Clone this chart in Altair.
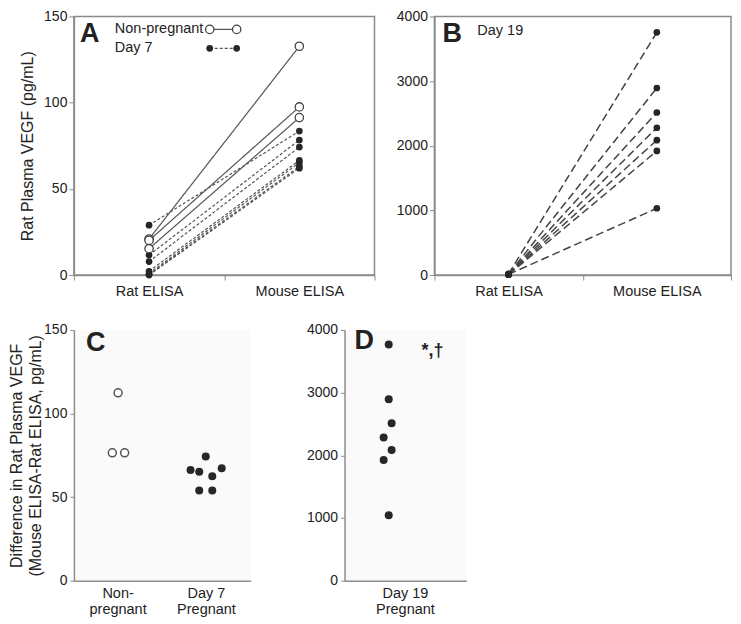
import altair as alt
import pandas as pd

FONT = "Liberation Sans"
TEXT = "#222222"
AXIS = "#8c8c8c"
INK = "#262626"
LINE = "#555555"

# ---------------- data ----------------
assays = ["Rat ELISA", "Mouse ELISA"]

# Panel A
np_rat = [20.9, 20.1, 15.3]
np_mouse = [132.7, 97.5, 91.3]
d7_rat = [28.9, 11.6, 7.8, 2.2, 0.9, 0.3, 0.0]
d7_mouse = [83.5, 78.3, 74.2, 66.5, 65.2, 63.0, 62.0]

# Panel B (Day 19)
d19_rat = [18, 14, 10, 12, 8, 6, 10]
d19_mouse = [3754, 2893, 2514, 2278, 2086, 1919, 1033]

# Panel C (difference)
c_groups = ["Non-|pregnant", "Day 7|Pregnant"]
c_np_diff = [112.4, 76.5, 76.5]
c_np_jit = [0.0, -0.8, 0.9]
c_d7_diff = [66.2, 65.2, 74.3, 62.4, 67.2, 54.0, 54.0]
c_d7_jit = [-2.2, -1.0, -0.1, 0.8, 2.1, -1.0, 0.8]

# Panel D (difference, Day 19)
d_group = ["Day 19|Pregnant"]
d_diff = [3767, 2894, 2513, 2286, 2084, 1926, 1043]
d_jit = [0.0, 0.0, 0.4, -0.7, 0.4, -0.7, 0.0]

# ---------------- tables ----------------
rowsA = []
for i, (r, m) in enumerate(zip(np_rat, np_mouse)):
    rowsA.append(dict(id=f"np{i}", group="Non-pregnant", assay=assays[0], value=r))
    rowsA.append(dict(id=f"np{i}", group="Non-pregnant", assay=assays[1], value=m))
for i, (r, m) in enumerate(zip(d7_rat, d7_mouse)):
    rowsA.append(dict(id=f"d7{i}", group="Day 7", assay=assays[0], value=r))
    rowsA.append(dict(id=f"d7{i}", group="Day 7", assay=assays[1], value=m))
dfA = pd.DataFrame(rowsA)

rowsB = []
for i, (r, m) in enumerate(zip(d19_rat, d19_mouse)):
    rowsB.append(dict(id=f"d19{i}", assay=assays[0], value=r))
    rowsB.append(dict(id=f"d19{i}", assay=assays[1], value=m))
dfB = pd.DataFrame(rowsB)

dfC = pd.DataFrame(
    [dict(group=c_groups[0], kind="open", diff=v, jit=j) for v, j in zip(c_np_diff, c_np_jit)]
    + [dict(group=c_groups[1], kind="filled", diff=v, jit=j) for v, j in zip(c_d7_diff, c_d7_jit)]
)
dfD = pd.DataFrame([dict(group=d_group[0], diff=v, jit=j) for v, j in zip(d_diff, d_jit)])

one = pd.DataFrame({"k": [0]})

# ---------------- helpers ----------------
def xband(domain):
    return alt.X(
        "assay:N",
        sort=domain,
        bandPosition=0.5,
        scale=alt.Scale(type="band", domain=domain, paddingInner=0, paddingOuter=0),
        axis=alt.Axis(
            title=None, labelAngle=0, tickBand="extent", ticks=True, tickSize=5,
            labelPadding=4, labelFontSize=14.5, domainColor=AXIS, tickColor=AXIS,
            domainWidth=1.5,
        ),
    )


def ann_text(txt, x, y, size=14.5, weight="normal", align="left"):
    return alt.Chart(one).mark_text(
        text=txt, font=FONT, fontSize=size, fontWeight=weight, color=TEXT,
        align=align, baseline="middle",
    ).encode(x=alt.value(x), y=alt.value(y))


def ann_rule(x1, x2, y, dash):
    return alt.Chart(one).mark_rule(color=LINE, strokeWidth=1.3, strokeDash=dash).encode(
        x=alt.value(x1), x2=alt.value(x2), y=alt.value(y)
    )


def ann_pt(x, y, open_):
    if open_:
        m = alt.Chart(one).mark_point(shape="circle", filled=True, fill="white", stroke="#444",
                                      strokeWidth=1.3, size=70, opacity=1)
    else:
        m = alt.Chart(one).mark_point(shape="circle", filled=True, color=INK, size=45, opacity=1)
    return m.encode(x=alt.value(x), y=alt.value(y))


H1 = 259
WA = 301
WB = 297

# ---------------- Panel A ----------------
yA = alt.Y(
    "value:Q",
    scale=alt.Scale(domain=[0, 150]),
    axis=alt.Axis(values=[0, 50, 100, 150], title="Rat Plasma VEGF (pg/mL)", format="d",
                  titlePadding=8, tickSize=5, labelPadding=2, domainColor=AXIS,
                  tickColor=AXIS, domainWidth=1.5, grid=False),
)
linesA = alt.Chart(dfA).mark_line(color=LINE, strokeWidth=1.2).encode(
    x=xband(assays), y=yA, detail="id:N",
    strokeDash=alt.StrokeDash("group:N", scale=alt.Scale(domain=["Non-pregnant", "Day 7"],
                                                         range=[[1, 0], [3, 2]]), legend=None),
)
ptsA_f = alt.Chart(dfA).transform_filter(alt.datum.group == "Day 7").mark_point(
    shape="circle", filled=True, color=INK, size=45, opacity=1
).encode(x=xband(assays), y=yA)
ptsA_o = alt.Chart(dfA).transform_filter(alt.datum.group == "Non-pregnant").mark_point(
    shape="circle", filled=True, fill="white", stroke="#444", strokeWidth=1.3, size=70, opacity=1
).encode(x=xband(assays), y=yA)

legA = [
    ann_text("Non-pregnant", 41, 13),
    ann_text("Day 7", 41, 32),
    ann_rule(136, 163, 13, [1, 0]),
    ann_rule(136, 163, 32, [3, 2]),
    ann_pt(136, 13, True), ann_pt(163, 13, True),
    ann_pt(136, 32, False), ann_pt(163, 32, False),
    ann_text("A", 6, 18, size=27, weight="bold"),
]
panelA = alt.layer(linesA, ptsA_f, ptsA_o, *legA).properties(
    width=WA, height=H1, view=alt.ViewBackground(stroke=AXIS, strokeWidth=1.5)
)

# ---------------- Panel B ----------------
yB = alt.Y(
    "value:Q",
    scale=alt.Scale(domain=[0, 4000]),
    axis=alt.Axis(values=[0, 1000, 2000, 3000, 4000], title=None, format="d", tickSize=5,
                  labelPadding=2, domainColor=AXIS, tickColor=AXIS, domainWidth=1.5, grid=False),
)
linesB = alt.Chart(dfB).mark_line(color="#444", strokeWidth=1.5, strokeDash=[8, 4]).encode(
    x=xband(assays), y=yB, detail="id:N"
)
ptsB = alt.Chart(dfB).mark_point(shape="circle", filled=True, color=INK, size=45, opacity=1).encode(
    x=xband(assays), y=yB
)
panelB = alt.layer(
    linesB, ptsB,
    ann_text("B", 8, 18, size=27, weight="bold"),
    ann_text("Day 19", 43, 15, size=14.5),
).properties(width=WB, height=H1, view=alt.ViewBackground(stroke=AXIS, strokeWidth=1.5))

# ---------------- Panel C ----------------
WC, WD, H2 = 177, 122, 251


def xcat(domain, width):
    return alt.X(
        "group:N", sort=domain,
        scale=alt.Scale(type="band", domain=domain, paddingInner=0, paddingOuter=0),
        axis=alt.Axis(title=None, labelAngle=0, ticks=False, labelPadding=6, labelFontSize=14.5,
                      labelLineHeight=16, labelExpr="split(datum.label, '|')",
                      domainColor=AXIS, domainWidth=1.5),
    )


def xoff(width, n):
    half = width / n / 20.0
    return alt.XOffset("jit:Q", scale=alt.Scale(domain=[-half, half]))


yC = alt.Y(
    "diff:Q", scale=alt.Scale(domain=[0, 150]),
    axis=alt.Axis(values=[0, 50, 100, 150], format="d",
                  title=["Difference in Rat Plasma VEGF", "(Mouse ELISA-Rat ELISA, pg/mL)"],
                  titleLineHeight=19, titlePadding=0, tickSize=4, labelPadding=3,
                  domainColor=AXIS, tickColor=AXIS, domainWidth=1.5, grid=False),
)
ptsC_o = alt.Chart(dfC).transform_filter(alt.datum.kind == "open").mark_point(
    shape="circle", filled=True, fill="white", stroke="#555", strokeWidth=1.5, size=64, opacity=1
).encode(x=xcat(c_groups, WC), xOffset=xoff(WC, 2), y=yC)
ptsC_f = alt.Chart(dfC).transform_filter(alt.datum.kind == "filled").mark_point(
    shape="circle", filled=True, color=INK, size=64, opacity=1
).encode(x=xcat(c_groups, WC), xOffset=xoff(WC, 2), y=yC)
panelC = alt.layer(ptsC_o, ptsC_f, ann_text("C", 12, 13, size=27, weight="bold")).properties(
    width=WC, height=H2, view=alt.ViewBackground(stroke=None, fill="#fafafa")
)

# ---------------- Panel D ----------------
yD = alt.Y(
    "diff:Q", scale=alt.Scale(domain=[0, 4000]),
    axis=alt.Axis(values=[0, 1000, 2000, 3000, 4000], title=None, format="d", tickSize=4,
                  labelPadding=3, domainColor=AXIS, tickColor=AXIS, domainWidth=1.5, grid=False),
)
ptsD = alt.Chart(dfD).mark_point(shape="circle", filled=True, color=INK, size=64, opacity=1).encode(
    x=xcat(d_group, WD), xOffset=xoff(WD, 1), y=yD
)
starD = alt.Chart(pd.DataFrame({"group": [d_group[0]], "diff": [max(d_diff)]})).mark_text(
    text="*,†", font=FONT, fontSize=18, fontWeight="bold", color=TEXT, align="left",
    baseline="middle", dx=16, dy=6,
).encode(x=alt.X("group:N", sort=d_group, bandPosition=0.5,
                 scale=alt.Scale(type="band", domain=d_group, paddingInner=0, paddingOuter=0)),
         y=alt.Y("diff:Q"))
panelD = alt.layer(ptsD, starD, ann_text("D", 10, 11, size=27, weight="bold")).properties(
    width=WD, height=H2, view=alt.ViewBackground(stroke=None, fill="#fafafa")
)

row1 = alt.hconcat(panelA, panelB, spacing=19)
row2 = alt.hconcat(panelC, panelD, spacing=55)
chart = alt.concat(row1, row2, columns=1, spacing=24, align="none", bounds="full").properties(
    padding=0
).configure(font=FONT).configure_axis(
    labelFont=FONT, titleFont=FONT, labelColor=TEXT, titleColor=TEXT, labelFontSize=14,
    titleFontSize=16, titleFontWeight="normal", grid=False,
).configure_view(stroke=None)

chart.save("out.html", embed_options={"renderer": "svg", "actions": False})
